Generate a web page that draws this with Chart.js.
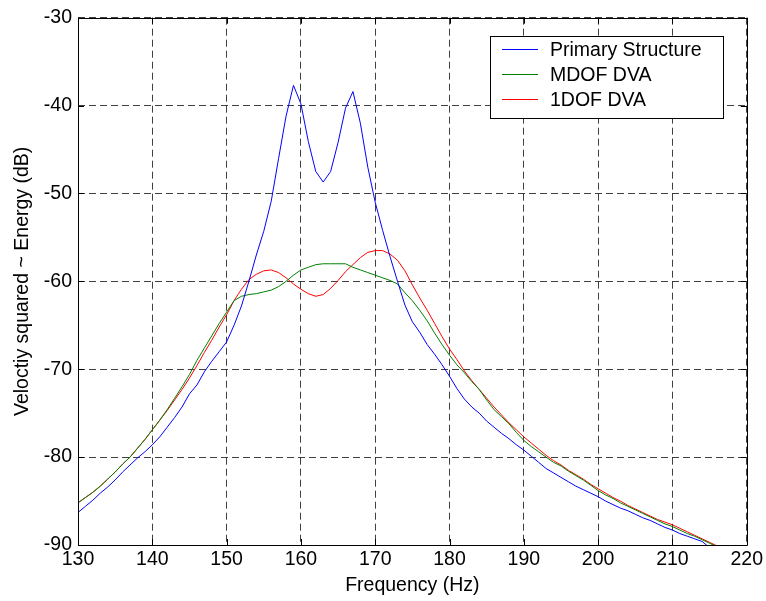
<!DOCTYPE html>
<html>
<head>
<meta charset="utf-8">
<script src="https://cdn.jsdelivr.net/npm/chart.js@4/dist/chart.umd.min.js"></script>
<style>
html,body{margin:0;padding:0;background:#fff;}
#wrap{width:766px;height:601px;position:relative;}
</style>
</head>
<body>
<div id="wrap"><canvas id="c" width="766" height="601"></canvas></div>
<script>
const freqStart = 130;
const primary = [-86.3,-85.6,-84.9,-84.1,-83.4,-82.6,-81.7,-80.9,-80.1,-79.4,
  -78.6,-77.7,-76.6,-75.5,-74.3,-72.8,-71.8,-70.3,-69.1,-68.0,
  -66.9,-65.0,-62.8,-60.0,-57.0,-54.3,-50.9,-46.0,-41.2,-37.7,
  -39.8,-44.1,-47.5,-48.7,-47.5,-44.2,-40.3,-38.4,-42.0,-47.0,
  -51.0,-54.2,-57.2,-60.0,-62.7,-64.6,-65.8,-67.2,-68.3,-69.5,
  -70.8,-72.2,-73.4,-74.3,-75.0,-75.9,-76.6,-77.3,-77.9,-78.6,
  -79.2,-79.9,-80.6,-81.3,-81.8,-82.3,-82.8,-83.3,-83.7,-84.1,
  -84.5,-85.0,-85.4,-85.8,-86.1,-86.5,-86.9,-87.2,-87.6,-88.0,
  -88.3,-88.7,-89.0,-89.3,-89.6,-90.3];
const mdof = [-85.2,-84.6,-84.0,-83.3,-82.5,-81.7,-80.8,-80.0,-79.0,-78.0,
  -76.9,-75.8,-74.6,-73.3,-72.0,-70.6,-69.0,-67.6,-66.2,-64.8,
  -63.5,-62.2,-61.7,-61.5,-61.4,-61.2,-61.0,-60.6,-60.0,-59.3,
  -58.7,-58.4,-58.1,-58.0,-58.0,-58.0,-58.0,-58.4,-58.7,-59.0,
  -59.3,-59.6,-59.9,-60.3,-61.3,-62.2,-63.3,-64.5,-65.9,-67.2,
  -68.4,-69.5,-70.4,-71.4,-72.3,-73.5,-74.6,-75.4,-76.2,-77.2,
  -78.1,-78.8,-79.4,-80.0,-80.6,-81.0,-81.6,-82.1,-82.6,-83.2,
  -83.8,-84.3,-84.7,-85.2,-85.6,-86.0,-86.4,-86.8,-87.2,-87.6,
  -87.9,-88.3,-88.7,-89.0,-89.4,-89.8,-90.2];
const onedof = [-85.2,-84.6,-84.0,-83.3,-82.5,-81.7,-80.8,-80.0,-79.0,-78.0,
  -76.9,-75.8,-74.7,-73.5,-72.3,-71.0,-69.6,-68.1,-66.7,-65.2,
  -63.8,-62.2,-60.9,-59.8,-59.2,-58.8,-58.7,-59.0,-59.6,-60.3,
  -60.9,-61.4,-61.7,-61.5,-60.8,-59.9,-58.9,-58.1,-57.3,-56.7,
  -56.5,-56.5,-56.9,-57.6,-58.8,-60.4,-61.9,-63.3,-64.8,-66.3,
  -67.7,-68.9,-70.2,-71.3,-72.3,-73.3,-74.3,-75.2,-76.1,-76.9,
  -77.7,-78.4,-79.1,-79.8,-80.4,-80.9,-81.5,-82.0,-82.5,-83.1,
  -83.6,-84.1,-84.6,-85.0,-85.5,-85.9,-86.3,-86.7,-87.1,-87.4,
  -87.7,-88.1,-88.5,-88.9,-89.3,-89.7,-90.1];
const seriesNames = ['Primary Structure','MDOF DVA','1DOF DVA'];
const seriesColors = ['#0000ff','#008000','#ff0000'];
const xTicks = [130,140,150,160,170,180,190,200,210,220];
const yTicks = [-30,-40,-50,-60,-70,-80,-90];

function toXY(arr){ return arr.map((v,i)=>({x:freqStart+i,y:v})); }
const FONT = '"Liberation Sans", Arial, sans-serif';
const FS = 19.5;

const boxPlugin = {
  id:'boxPlugin',
  afterDatasetsDraw(chart){
    const {ctx, chartArea:a, scales} = chart;
    ctx.save();
    ctx.strokeStyle='#000'; ctx.lineWidth=1;
    ctx.beginPath();
    ctx.rect(Math.round(a.left)+0.5, Math.round(a.top)+0.5, Math.round(a.right-a.left), Math.round(a.bottom-a.top));
    ctx.stroke();
    const t=6;
    ctx.beginPath();
    xTicks.forEach(v=>{
      const px=Math.round(scales.x.getPixelForValue(v))+0.5;
      ctx.moveTo(px,a.bottom); ctx.lineTo(px,a.bottom-t);
      ctx.moveTo(px,a.top); ctx.lineTo(px,a.top+t);
    });
    yTicks.forEach(v=>{
      const py=Math.round(scales.y.getPixelForValue(v))+0.5;
      ctx.moveTo(a.left,py); ctx.lineTo(a.left+t,py);
      ctx.moveTo(a.right,py); ctx.lineTo(a.right-t,py);
    });
    ctx.stroke();
    // legend
    const lx=490, ly=36, lw=233, lh=82;
    ctx.fillStyle='#fff';
    ctx.fillRect(lx,ly,lw,lh);
    ctx.strokeRect(lx+0.5,ly+0.5,lw,lh);
    ctx.font=FS+'px '+FONT;
    ctx.textBaseline='middle';
    seriesNames.forEach((n,i)=>{
      const y=ly+13+i*25+0.5;
      ctx.strokeStyle=seriesColors[i];
      ctx.beginPath(); ctx.moveTo(502,y); ctx.lineTo(538,y); ctx.stroke();
      ctx.fillStyle='#000';
      ctx.fillText(n,550,y+1);
    });
    ctx.restore();
  }
};

new Chart(document.getElementById('c'),{
  type:'line',
  data:{datasets:[primary,mdof,onedof].map((d,i)=>({
    label:seriesNames[i], data:toXY(d), borderColor:seriesColors[i],
    borderWidth:1, pointRadius:0, tension:0, fill:false
  }))},
  options:{
    responsive:false, animation:false, devicePixelRatio:1,
    layout:{padding:{left:0,right:19,top:16,bottom:0}},
    plugins:{legend:{display:false},tooltip:{enabled:false}},
    scales:{
      x:{type:'linear',min:130,max:220,
        afterBuildTicks(s){ s.ticks = xTicks.map(v=>({value:v})); },
        afterFit(s){ s.height=56; },
        ticks:{color:'#000',font:{family:FONT,size:FS},padding:3,maxRotation:0},
        grid:{color:'rgba(0,0,0,0.75)',lineWidth:1,drawTicks:false},
        border:{display:false,dash:[7,4]},
        title:{display:true,text:'Frequency (Hz)',color:'#000',font:{family:FONT,size:FS},padding:{top:0,bottom:4}}
      },
      y:{type:'linear',min:-90,max:-30,
        afterBuildTicks(s){ s.ticks = yTicks.map(v=>({value:v})); },
        afterFit(s){ s.width=78; },
        ticks:{color:'#000',font:{family:FONT,size:FS},padding:6},
        grid:{color:'rgba(0,0,0,0.75)',lineWidth:1,drawTicks:false},
        border:{display:false,dash:[7,4]},
        title:{display:true,text:'Veloctiy squared ~ Energy (dB)',color:'#000',font:{family:FONT,size:FS},padding:{top:11,bottom:0}}
      }
    }
  },
  plugins:[boxPlugin]
});
</script>
</body>
</html>
